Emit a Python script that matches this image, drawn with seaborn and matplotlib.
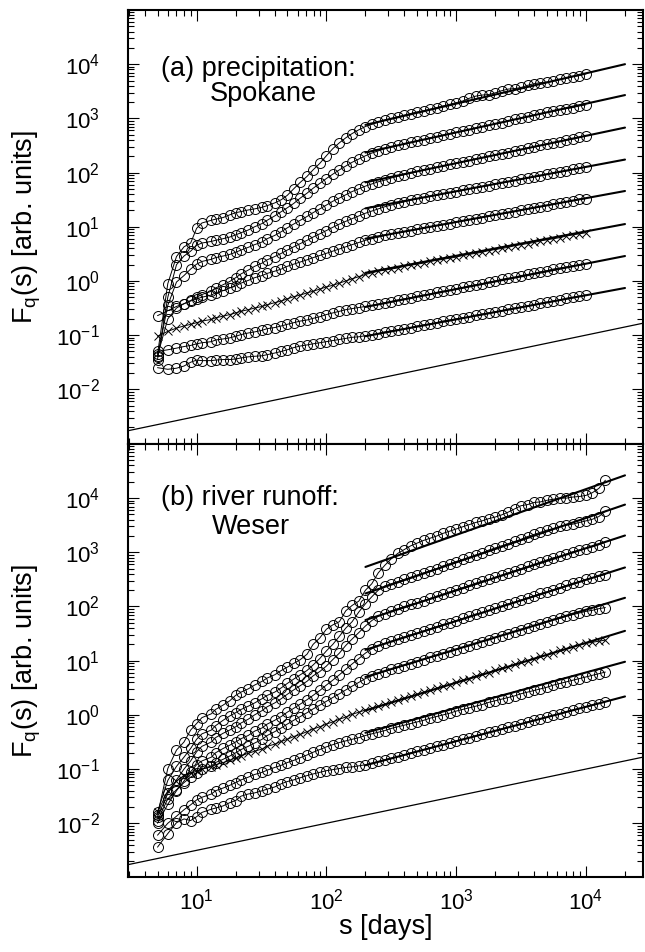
import numpy as np
import pandas as pd
import matplotlib
matplotlib.use("Agg")
import matplotlib.pyplot as plt
import seaborn as sns
from matplotlib.ticker import LogLocator, NullFormatter, FixedLocator

sns.set_theme(style="white")
plt.rcParams['font.family'] = ['Liberation Sans', 'DejaVu Sans']
plt.rcParams['mathtext.fontset'] = 'custom'
plt.rcParams['mathtext.rm'] = 'Liberation Sans'
plt.rcParams['mathtext.it'] = 'Liberation Sans:italic'
plt.rcParams['mathtext.bf'] = 'Liberation Sans:bold'
for key in ('text.color', 'axes.labelcolor', 'xtick.color', 'ytick.color', 'axes.edgecolor'):
    plt.rcParams[key] = 'black'

# ---------------- data (log10 F_q(s)) ----------------
s_top = [5, 6, 7, 8, 9, 10, 11, 13, 14, 16,
         18, 20, 22, 25, 28, 32, 35, 40, 45, 50,
         56, 63, 71, 79, 89, 100, 112, 126, 141, 158,
         178, 200, 224, 251, 282, 316, 355, 398, 447, 501,
         562, 631, 708, 794, 891, 1000, 1122, 1259, 1413, 1585,
         1778, 1995, 2239, 2512, 2818, 3162, 3548, 3981, 4467, 5012,
         5623, 6310, 7079, 7943, 8913, 10000]
s_bottom = s_top + [11220, 12589, 14125]

# (a) precipitation, Spokane
a1 = [-1.35, -0.05, 0.45, 0.63, 0.70, 0.97, 1.07, 1.12, 1.14, 1.17,
      1.22, 1.26, 1.28, 1.31, 1.33, 1.36, 1.39, 1.44, 1.50, 1.58,
      1.70, 1.82, 1.93, 2.05, 2.17, 2.31, 2.44, 2.55, 2.64, 2.72,
      2.79, 2.85, 2.89, 2.93, 2.97, 3.00, 3.03, 3.06, 3.09, 3.12,
      3.14, 3.17, 3.20, 3.23, 3.26, 3.29, 3.32, 3.37, 3.41, 3.43,
      3.44, 3.47, 3.51, 3.54, 3.55, 3.57, 3.61, 3.64, 3.66, 3.67,
      3.69, 3.72, 3.74, 3.77, 3.79, 3.82]
a2 = [-1.45, -0.30, 0.30, 0.46, 0.55, 0.66, 0.70, 0.73, 0.75, 0.78,
      0.81, 0.85, 0.89, 0.94, 1.00, 1.06, 1.12, 1.20, 1.28, 1.35,
      1.43, 1.53, 1.62, 1.71, 1.80, 1.89, 1.97, 2.05, 2.12, 2.19,
      2.25, 2.31, 2.36, 2.40, 2.44, 2.47, 2.50, 2.53, 2.56, 2.59,
      2.61, 2.64, 2.66, 2.69, 2.72, 2.74, 2.77, 2.79, 2.82, 2.85,
      2.87, 2.90, 2.92, 2.95, 2.98, 3.00, 3.03, 3.06, 3.08, 3.11,
      3.13, 3.16, 3.18, 3.20, 3.23, 3.25]
a3 = [-1.40, -0.45, -0.02, 0.10, 0.22, 0.31, 0.36, 0.40, 0.43, 0.46,
      0.49, 0.53, 0.57, 0.62, 0.67, 0.72, 0.78, 0.84, 0.91, 0.98,
      1.05, 1.12, 1.19, 1.26, 1.33, 1.40, 1.47, 1.53, 1.59, 1.65,
      1.70, 1.75, 1.79, 1.83, 1.86, 1.90, 1.93, 1.96, 1.99, 2.02,
      2.05, 2.07, 2.10, 2.12, 2.15, 2.17, 2.20, 2.22, 2.25, 2.27,
      2.30, 2.32, 2.35, 2.37, 2.40, 2.42, 2.45, 2.47, 2.50, 2.52,
      2.55, 2.57, 2.60, 2.62, 2.65, 2.68]
a4 = [-0.64, -0.55, -0.47, -0.42, -0.36, -0.30, -0.25, -0.19, -0.13, -0.07,
      -0.01, 0.06, 0.13, 0.20, 0.27, 0.33, 0.39, 0.45, 0.51, 0.57,
      0.63, 0.69, 0.75, 0.81, 0.87, 0.93, 0.99, 1.05, 1.10, 1.15,
      1.20, 1.25, 1.29, 1.33, 1.37, 1.40, 1.43, 1.46, 1.49, 1.52,
      1.54, 1.56, 1.58, 1.61, 1.63, 1.65, 1.67, 1.70, 1.72, 1.74,
      1.76, 1.79, 1.81, 1.83, 1.85, 1.88, 1.90, 1.92, 1.94, 1.97,
      1.99, 2.01, 2.03, 2.06, 2.08, 2.10]
a5 = [-1.38, -0.70, -0.50, -0.42, -0.37, -0.33, -0.30, -0.26, -0.22, -0.18,
      -0.13, -0.09, -0.04, 0.01, 0.06, 0.10, 0.14, 0.18, 0.22, 0.27,
      0.31, 0.35, 0.39, 0.43, 0.47, 0.51, 0.55, 0.59, 0.63, 0.67,
      0.71, 0.75, 0.78, 0.81, 0.84, 0.87, 0.89, 0.91, 0.93, 0.95,
      0.98, 1.00, 1.02, 1.04, 1.06, 1.09, 1.11, 1.13, 1.15, 1.17,
      1.20, 1.22, 1.24, 1.26, 1.28, 1.31, 1.33, 1.35, 1.37, 1.39,
      1.42, 1.44, 1.46, 1.48, 1.51, 1.52]
a6 = [-1.02, -0.93, -0.87, -0.83, -0.80, -0.77, -0.74, -0.71, -0.68, -0.65,
      -0.62, -0.59, -0.56, -0.53, -0.50, -0.47, -0.44, -0.40, -0.37, -0.33,
      -0.29, -0.26, -0.22, -0.19, -0.15, -0.11, -0.08, -0.04, 0.00, 0.04,
      0.08, 0.12, 0.15, 0.18, 0.20, 0.22, 0.24, 0.27, 0.29, 0.31,
      0.33, 0.36, 0.38, 0.40, 0.42, 0.44, 0.47, 0.49, 0.51, 0.53,
      0.56, 0.58, 0.60, 0.62, 0.65, 0.67, 0.69, 0.71, 0.74, 0.76,
      0.78, 0.80, 0.83, 0.85, 0.87, 0.89]
a7 = [-1.30, -1.27, -1.24, -1.21, -1.19, -1.16, -1.14, -1.12, -1.09, -1.07,
      -1.05, -1.02, -0.99, -0.96, -0.94, -0.91, -0.88, -0.86, -0.83, -0.80,
      -0.77, -0.74, -0.72, -0.69, -0.66, -0.62, -0.59, -0.56, -0.53, -0.51,
      -0.49, -0.47, -0.45, -0.43, -0.40, -0.38, -0.35, -0.33, -0.31, -0.28,
      -0.26, -0.24, -0.21, -0.19, -0.17, -0.14, -0.12, -0.09, -0.07, -0.05,
      -0.02, 0.00, 0.03, 0.05, 0.07, 0.10, 0.12, 0.14, 0.17, 0.19,
      0.22, 0.24, 0.26, 0.28, 0.30, 0.32]
a8 = [-1.60, -1.63, -1.61, -1.57, -1.50, -1.46, -1.47, -1.47, -1.46, -1.45,
      -1.45, -1.44, -1.42, -1.40, -1.39, -1.38, -1.36, -1.33, -1.30, -1.27,
      -1.23, -1.20, -1.18, -1.16, -1.14, -1.12, -1.10, -1.08, -1.06, -1.04,
      -1.03, -1.01, -0.99, -0.97, -0.94, -0.92, -0.90, -0.88, -0.86, -0.83,
      -0.81, -0.79, -0.77, -0.74, -0.72, -0.70, -0.68, -0.66, -0.63, -0.61,
      -0.59, -0.57, -0.55, -0.52, -0.50, -0.48, -0.46, -0.44, -0.41, -0.39,
      -0.37, -0.35, -0.32, -0.30, -0.28, -0.26]

# (b) river runoff, Weser
b1 = [-1.85, -0.99, -0.65, -0.50, -0.28, -0.16, -0.05, 0.02, 0.10, 0.18,
      0.26, 0.36, 0.42, 0.48, 0.55, 0.62, 0.68, 0.74, 0.82, 0.88,
      0.95, 1.02, 1.12, 1.30, 1.42, 1.58, 1.66, 1.72, 1.92, 2.02,
      2.10, 2.30, 2.42, 2.62, 2.76, 2.88, 2.98, 3.05, 3.12, 3.17,
      3.22, 3.26, 3.30, 3.35, 3.39, 3.43, 3.47, 3.51, 3.55, 3.58,
      3.62, 3.65, 3.69, 3.74, 3.80, 3.86, 3.88, 3.92, 3.93, 3.96,
      3.98, 4.00, 4.00, 4.02, 4.03, 4.05, 4.10, 4.18, 4.33]
b2 = [-1.79, -1.21, -0.95, -0.78, -0.62, -0.45, -0.35, -0.28, -0.20, -0.10,
      -0.02, 0.04, 0.10, 0.16, 0.22, 0.30, 0.36, 0.42, 0.50, 0.58,
      0.66, 0.74, 0.82, 0.92, 1.04, 1.18, 1.30, 1.45, 1.60, 1.72,
      1.90, 2.05, 2.18, 2.30, 2.38, 2.42, 2.46, 2.50, 2.54, 2.58,
      2.62, 2.66, 2.70, 2.75, 2.79, 2.83, 2.87, 2.91, 2.95, 2.99,
      3.04, 3.08, 3.12, 3.16, 3.20, 3.24, 3.29, 3.33, 3.37, 3.41,
      3.44, 3.48, 3.50, 3.52, 3.55, 3.58, 3.61, 3.66, 3.76]
b3 = [-1.88, -1.45, -1.20, -1.00, -0.85, -0.68, -0.58, -0.50, -0.42, -0.34,
      -0.28, -0.22, -0.15, -0.08, 0.00, 0.08, 0.15, 0.22, 0.30, 0.38,
      0.46, 0.54, 0.62, 0.72, 0.80, 0.90, 1.02, 1.14, 1.28, 1.40,
      1.52, 1.64, 1.74, 1.82, 1.87, 1.92, 1.96, 2.00, 2.04, 2.07,
      2.11, 2.15, 2.19, 2.23, 2.27, 2.31, 2.35, 2.39, 2.43, 2.47,
      2.50, 2.54, 2.58, 2.62, 2.66, 2.70, 2.74, 2.78, 2.82, 2.86,
      2.90, 2.93, 2.97, 3.01, 3.04, 3.07, 3.10, 3.14, 3.19]
b4 = [-2.00, -1.65, -1.40, -1.22, -1.05, -0.92, -0.85, -0.78, -0.70, -0.62,
      -0.56, -0.50, -0.44, -0.38, -0.30, -0.24, -0.17, -0.10, -0.03, 0.05,
      0.12, 0.20, 0.28, 0.36, 0.45, 0.55, 0.64, 0.74, 0.84, 0.94,
      1.04, 1.14, 1.22, 1.28, 1.32, 1.36, 1.40, 1.44, 1.48, 1.51,
      1.55, 1.59, 1.63, 1.67, 1.70, 1.74, 1.78, 1.82, 1.86, 1.89,
      1.93, 1.97, 2.01, 2.05, 2.08, 2.12, 2.16, 2.20, 2.24, 2.27,
      2.31, 2.35, 2.39, 2.43, 2.46, 2.50, 2.53, 2.56, 2.59]
b5 = [-1.95, -1.55, -1.38, -1.25, -1.15, -1.08, -1.00, -0.94, -0.88, -0.82,
      -0.76, -0.70, -0.64, -0.58, -0.52, -0.45, -0.38, -0.31, -0.24, -0.17,
      -0.10, -0.03, 0.04, 0.11, 0.18, 0.25, 0.32, 0.39, 0.46, 0.53,
      0.60, 0.67, 0.72, 0.76, 0.80, 0.84, 0.87, 0.91, 0.94, 0.98,
      1.02, 1.06, 1.09, 1.13, 1.16, 1.20, 1.24, 1.27, 1.31, 1.35,
      1.38, 1.42, 1.46, 1.49, 1.53, 1.56, 1.60, 1.64, 1.67, 1.71,
      1.75, 1.78, 1.82, 1.85, 1.88, 1.91, 1.93, 1.96, 1.98]
b6 = [-1.80, -1.40, -1.22, -1.12, -1.08, -1.04, -1.00, -0.96, -0.92, -0.88,
      -0.84, -0.79, -0.75, -0.71, -0.67, -0.63, -0.58, -0.54, -0.49, -0.45,
      -0.40, -0.36, -0.31, -0.26, -0.22, -0.17, -0.13, -0.08, -0.04, 0.01,
      0.05, 0.09, 0.12, 0.16, 0.20, 0.23, 0.27, 0.31, 0.34, 0.38,
      0.42, 0.45, 0.49, 0.53, 0.56, 0.60, 0.64, 0.67, 0.71, 0.75,
      0.78, 0.82, 0.86, 0.89, 0.93, 0.97, 1.00, 1.04, 1.08, 1.11,
      1.15, 1.19, 1.22, 1.26, 1.29, 1.32, 1.34, 1.36, 1.38]
b7 = [-2.22, -2.00, -1.87, -1.75, -1.66, -1.57, -1.52, -1.46, -1.40, -1.35,
      -1.30, -1.25, -1.20, -1.15, -1.10, -1.06, -1.02, -0.97, -0.93, -0.88,
      -0.84, -0.79, -0.74, -0.69, -0.64, -0.59, -0.55, -0.51, -0.48, -0.45,
      -0.42, -0.38, -0.35, -0.32, -0.29, -0.25, -0.22, -0.19, -0.16, -0.13,
      -0.10, -0.06, -0.03, 0.00, 0.03, 0.07, 0.10, 0.13, 0.16, 0.19,
      0.23, 0.26, 0.29, 0.32, 0.35, 0.39, 0.42, 0.45, 0.48, 0.51,
      0.55, 0.58, 0.61, 0.64, 0.67, 0.70, 0.73, 0.76, 0.79]
b8 = [-2.44, -2.19, -1.99, -1.92, -1.95, -1.88, -1.80, -1.74, -1.72, -1.68,
      -1.62, -1.58, -1.50, -1.46, -1.44, -1.40, -1.37, -1.33, -1.27, -1.23,
      -1.20, -1.16, -1.12, -1.09, -1.06, -1.03, -1.01, -0.99, -0.97, -0.96,
      -0.94, -0.92, -0.89, -0.86, -0.83, -0.80, -0.77, -0.74, -0.70, -0.67,
      -0.64, -0.61, -0.58, -0.55, -0.51, -0.48, -0.45, -0.42, -0.39, -0.36,
      -0.32, -0.29, -0.26, -0.23, -0.20, -0.17, -0.13, -0.10, -0.07, -0.04,
      -0.01, 0.02, 0.06, 0.09, 0.12, 0.15, 0.18, 0.21, 0.24]

# straight power-law fits (log10 F at s = 200 and s = 20000)
fit_s = [200, 20000]
fit_a_start = [2.88, 2.37, 1.82, 1.34, 0.78, 0.15, -0.48, -1.02]
fit_a_end = [4.00, 3.43, 2.83, 2.24, 1.66, 1.05, 0.46, -0.13]
fit_b_start = [2.73, 2.24, 1.75, 1.20, 0.70, 0.08, -0.33, -0.93]
fit_b_end = [4.42, 3.88, 3.31, 2.72, 2.16, 1.55, 0.98, 0.34]

# reference slope-0.5 line
ref_s = [2.96, 27500]
ref_logF = [-2.764, -0.780]

series_markers = ['o', 'o', 'o', 'o', 'o', 'x', 'o', 'o']

# ---------------- figure ----------------
fig = plt.figure(figsize=(6.45, 9.52), dpi=100)
ax_a = fig.add_axes([0.1984, 0.5341, 0.7984, 0.4554])
ax_b = fig.add_axes([0.1984, 0.0783, 0.7984, 0.4554])


def draw_panel(ax, s_vals, series, fit_start, fit_end):
    for logF, mk in zip(series, series_markers):
        df = pd.DataFrame({'s': s_vals, 'F': np.power(10.0, logF)})
        if mk == 'o':
            sns.lineplot(data=df, x='s', y='F', ax=ax, color='black', lw=0.7,
                         marker='o', ms=7.2, mfc='none', mec='black', mew=0.7,
                         estimator=None, sort=False, legend=False)
        else:
            sns.lineplot(data=df, x='s', y='F', ax=ax, color='black', lw=0.7,
                         marker='x', ms=6.0, mec='black', mew=0.7,
                         estimator=None, sort=False, legend=False)
    for y0, y1 in zip(fit_start, fit_end):
        dfl = pd.DataFrame({'s': fit_s, 'F': np.power(10.0, [y0, y1])})
        sns.lineplot(data=dfl, x='s', y='F', ax=ax, color='black', lw=1.5,
                     estimator=None, sort=False, legend=False)
    dfr = pd.DataFrame({'s': ref_s, 'F': np.power(10.0, ref_logF)})
    sns.lineplot(data=dfr, x='s', y='F', ax=ax, color='black', lw=0.9,
                 estimator=None, sort=False, legend=False)


draw_panel(ax_a, s_top, [a1, a2, a3, a4, a5, a6, a7, a8], fit_a_start, fit_a_end)
draw_panel(ax_b, s_bottom, [b1, b2, b3, b4, b5, b6, b7, b8], fit_b_start, fit_b_end)

ylab = r"F$_{\mathdefault{q}}$(s) [arb. units]"
for ax in (ax_a, ax_b):
    ax.set_xscale('log')
    ax.set_yscale('log')
    ax.set_xlim(2.96, 2.75e4)
    ax.set_ylim(1e-3, 1e5)
    ax.xaxis.set_major_locator(FixedLocator([1e1, 1e2, 1e3, 1e4]))
    ax.xaxis.set_minor_locator(LogLocator(base=10, subs=np.arange(2, 10), numticks=30))
    ax.xaxis.set_minor_formatter(NullFormatter())
    ax.yaxis.set_major_locator(FixedLocator([1e-2, 1e-1, 1e0, 1e1, 1e2, 1e3, 1e4]))
    ax.yaxis.set_minor_locator(LogLocator(base=10, subs=np.arange(2, 10), numticks=30))
    ax.yaxis.set_minor_formatter(NullFormatter())
    ax.tick_params(which='both', direction='in', top=True, right=True,
                   bottom=True, left=True, width=0.8, color='black',
                   labelcolor='black')
    ax.tick_params(which='major', length=8)
    ax.tick_params(which='minor', length=4)
    ax.tick_params(axis='y', which='major', labelsize=16, pad=20)
    ax.tick_params(axis='x', which='major', labelsize=16, pad=8)
    for sp in ax.spines.values():
        sp.set_linewidth(1.5)
        sp.set_color('black')
    ax.set_ylabel(ylab, fontsize=19.5, color='black')
    ax.yaxis.set_label_coords(-0.165, 0.5)
    ax.grid(False)

ax_a.set_xlabel('')
ax_a.tick_params(axis='x', which='both', labelbottom=False)
ax_b.set_xlabel('s [days]', fontsize=19.5, color='black')
ax_b.xaxis.set_label_coords(0.5, -0.085)

ax_a.text(0.064, 0.848, '(a) precipitation:', transform=ax_a.transAxes,
          fontsize=19.5, va='baseline', ha='left', color='black')
ax_a.text(0.159, 0.790, 'Spokane', transform=ax_a.transAxes,
          fontsize=19.5, va='baseline', ha='left', color='black')
ax_b.text(0.064, 0.860, '(b) river runoff:', transform=ax_b.transAxes,
          fontsize=19.5, va='baseline', ha='left', color='black')
ax_b.text(0.163, 0.793, 'Weser', transform=ax_b.transAxes,
          fontsize=19.5, va='baseline', ha='left', color='black')

fig.savefig('out.png', dpi=100)
